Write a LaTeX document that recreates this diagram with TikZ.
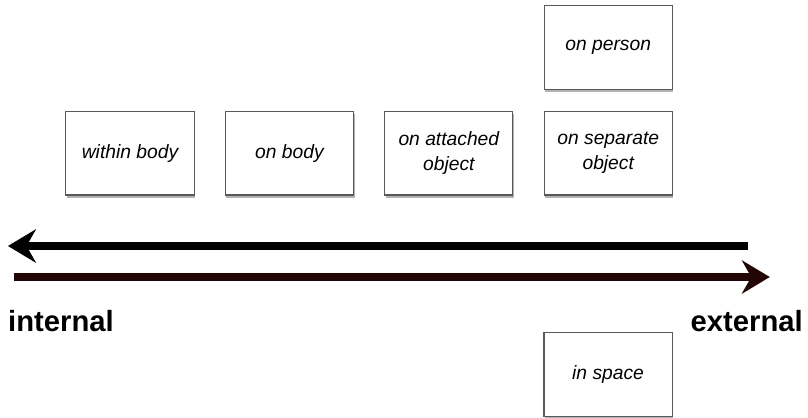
\documentclass[tikz,border=0pt]{standalone}
\usepackage{fontspec}
\setmainfont{Liberation Sans}
\usepackage{xcolor}
\usetikzlibrary{arrows.meta,positioning,shadows}

\definecolor{darkbrown}{HTML}{220505}

\begin{document}
\begin{tikzpicture}[
  font=\fontsize{14.5}{18.5}\selectfont\itshape,
  place/.style={draw=black!65, line width=0.8pt, fill=white, align=center,
    minimum width=3.39cm, minimum height=2.22cm, inner sep=2pt,
    drop shadow={shadow xshift=0.8pt, shadow yshift=-2pt, opacity=0.6}},
  axis/.style={line width=6pt, -{Stealth[length=21pt, width=25pt, inset=7pt]}},
  endlabel/.style={font=\fontsize{22}{25}\selectfont\bfseries, inner sep=0pt}
]
\useasboundingbox (0,0) rectangle (21.38,11.06);

% row of places
\node[place] (within) at (3.44,7.01) {within body};
\node[place, right=0.8cm of within] (onbody) {on body};
\node[place, right=0.8cm of onbody] (attached) {on attached\\object};
\node[place, right=0.8cm of attached] (separate) {on separate\\object};
\node[place, above=0.55cm of separate] (person) {on person};
\node[place] (space) at (16.09,1.16) {in space};

% the two directions
\coordinate (inR) at (19.79,4.55);
\coordinate (inL) at (0.21,4.55);
\coordinate (exL) at (0.37,3.73);
\coordinate (exR) at (20.37,3.73);
\draw[axis, black] (inR) -- (inL);
\draw[axis, darkbrown] (exL) -- (exR);

\node[endlabel, anchor=west] (internal) at (0.21,2.57) {internal};
\node[endlabel, anchor=east] (external) at (21.25,2.57) {external};
\end{tikzpicture}
\end{document}
